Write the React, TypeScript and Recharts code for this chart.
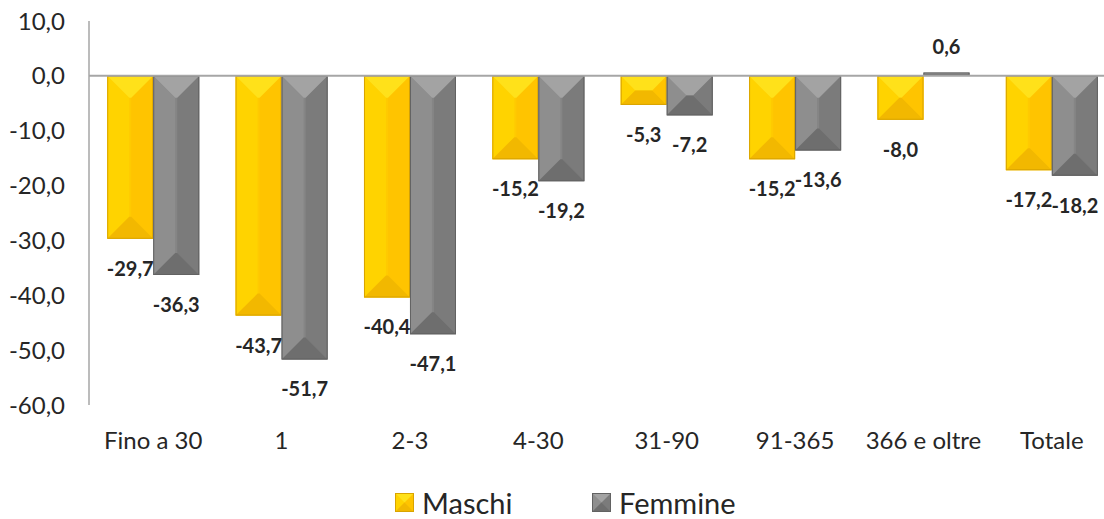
import { BarChart, Bar, XAxis, YAxis, ReferenceLine, LabelList } from 'recharts';

const categories = ['Fino a 30', '1', '2-3', '4-30', '31-90', '91-365', '366 e oltre', 'Totale'];
const maschi = [-29.7, -43.7, -40.4, -15.2, -5.3, -15.2, -8.0, -17.2];
const femmine = [-36.3, -51.7, -47.1, -19.2, -7.2, -13.6, 0.6, -18.2];
const yTicks = [-60, -50, -40, -30, -20, -10, 0, 10];

const chartData = categories.map((name, i) => ({
  name,
  Maschi: maschi[i],
  Femmine: femmine[i],
}));

interface Palette {
  top: string;
  bottom: string;
  left: string;
  right: string;
  face: string;
  border: string;
}

const YELLOW: Palette = {
  top: '#FFE11A',
  bottom: '#F2B800',
  left: '#FFD300',
  right: '#FFC400',
  face: '#FFCA00',
  border: '#D9A400',
};

const GREY: Palette = {
  top: '#A3A3A3',
  bottom: '#6E6E6E',
  left: '#8E8E8E',
  right: '#7B7B7B',
  face: '#858585',
  border: '#626262',
};

const fmt = (v: number) => v.toFixed(1).replace('.', ',');
const FONT = 'Lato, "Open Sans", sans-serif';

function BevelBar(props: any) {
  const { x, y, width, height, pal } = props;
  if (width == null || height == null) return null;
  const top = Math.min(y, y + height);
  const h = Math.abs(height);
  const w = width;
  if (h <= 0) return null;
  const b = Math.min(22, w / 2, h / 2);
  const x0 = x;
  const x1 = x + w;
  const y0 = top;
  const y1 = top + h;
  const pts = (arr: number[][]) => arr.map((p) => p.join(',')).join(' ');
  return (
    <g>
      <rect x={x0} y={y0} width={w} height={h} fill={pal.face} />
      <polygon points={pts([[x0, y0], [x0 + b, y0 + b], [x0 + b, y1 - b], [x0, y1]])} fill={pal.left} />
      <polygon points={pts([[x1, y0], [x1 - b, y0 + b], [x1 - b, y1 - b], [x1, y1]])} fill={pal.right} />
      <polygon points={pts([[x0, y0], [x1, y0], [x1 - b, y0 + b], [x0 + b, y0 + b]])} fill={pal.top} />
      <polygon points={pts([[x0, y1], [x1, y1], [x1 - b, y1 - b], [x0 + b, y1 - b]])} fill={pal.bottom} />
      <rect x={x0 + 0.5} y={y0 + 0.5} width={Math.max(0, w - 1)} height={Math.max(0, h - 1)} fill="none" stroke={pal.border} strokeWidth={1} />
    </g>
  );
}

function ValueLabel(props: any) {
  const { x, y, width, height, value } = props;
  if (value == null) return null;
  const top = Math.min(y, y + height);
  const bottom = Math.max(y, y + height);
  const ty = value < 0 ? bottom + 37 : top - 19;
  return (
    <text
      x={x + width / 2}
      y={ty}
      textAnchor="middle"
      fontFamily={FONT}
      fontWeight={700}
      fontSize={20}
      fill="#262626"
    >
      {fmt(value)}
    </text>
  );
}

function LegendIcon({ pal }: { pal: Palette }) {
  return (
    <svg width={19} height={19} style={{ display: 'block' }}>
      <BevelBar x={0} y={0} width={19} height={19} pal={pal} />
    </svg>
  );
}

export default function App() {
  return (
    <div
      style={{
        position: 'absolute',
        left: 0,
        top: 0,
        width: 1104,
        height: 519,
        overflow: 'hidden',
        background: '#fff',
      }}
    >
      <BarChart
        width={1120}
        height={519}
        data={chartData}
        margin={{ top: 21, right: 4, left: 0, bottom: 0 }}
        barGap={0}
        barCategoryGap="14.2%"
      >
        <XAxis
          dataKey="name"
          axisLine={false}
          tickLine={false}
          tickSize={0}
          tickMargin={27}
          height={114}
          interval={0}
          tick={{ fontFamily: FONT, fontSize: 24, fill: '#262626' }}
        />
        <YAxis
          domain={[-60, 10]}
          ticks={yTicks}
          width={89}
          tickLine={false}
          tickSize={0}
          tickMargin={24}
          axisLine={{ stroke: '#A6A6A6', strokeWidth: 1.5 }}
          tickFormatter={fmt}
          tick={{ fontFamily: FONT, fontSize: 24, fill: '#262626' }}
        />
        <ReferenceLine y={0} stroke="#A6A6A6" strokeWidth={2} />
        <Bar
          dataKey="Maschi"
          isAnimationActive={false}
          shape={(p: any) => <BevelBar {...p} pal={YELLOW} />}
        >
          <LabelList dataKey="Maschi" content={ValueLabel} />
        </Bar>
        <Bar
          dataKey="Femmine"
          isAnimationActive={false}
          shape={(p: any) => <BevelBar {...p} pal={GREY} />}
        >
          <LabelList dataKey="Femmine" content={ValueLabel} />
        </Bar>
      </BarChart>
      {[
        { label: 'Maschi', pal: YELLOW, left: 395 },
        { label: 'Femmine', pal: GREY, left: 592 },
      ].map((item) => (
        <div
          key={item.label}
          style={{
            position: 'absolute',
            left: item.left,
            top: 488,
            height: 29,
            display: 'flex',
            alignItems: 'center',
            fontFamily: FONT,
            fontSize: 29,
            color: '#262626',
            lineHeight: '29px',
          }}
        >
          <LegendIcon pal={item.pal} />
          <span style={{ marginLeft: 8 }}>{item.label}</span>
        </div>
      ))}
    </div>
  );
}
